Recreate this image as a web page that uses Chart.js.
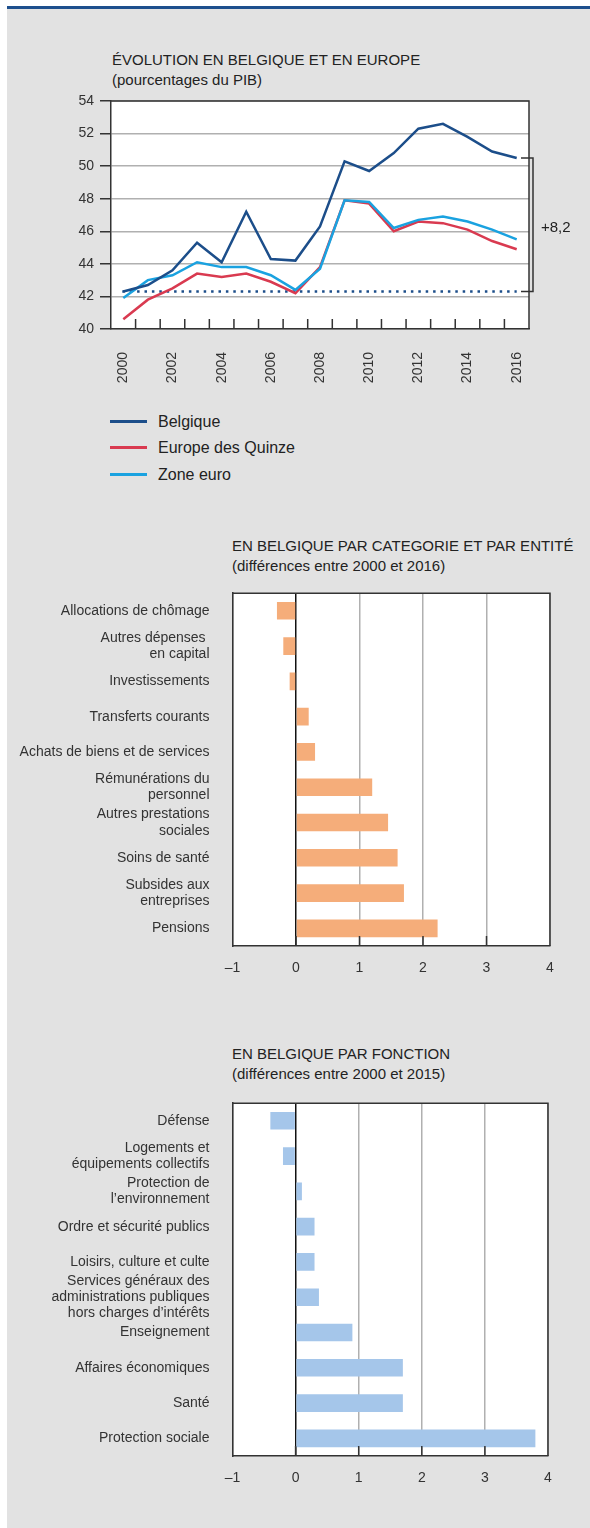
<!DOCTYPE html>
<html lang="fr">
<head>
<meta charset="utf-8">
<title>Dépenses publiques</title>
<script src="https://cdn.jsdelivr.net/npm/chart.js@4.4.1/dist/chart.umd.min.js"></script>
<style>
  html, body { margin: 0; padding: 0; background: #ffffff; }
  #page { position: relative; width: 590px; height: 1528px; overflow: hidden; font-family: 'Liberation Sans', Arial, sans-serif; color: #222; }
  .panel { position: absolute; left: 7px; top: 9px; width: 583px; height: 1519px; background: #e2e2e2; }
  .rule { position: absolute; left: 7px; top: 6px; width: 583px; height: 3px; background: #1d4f8d; }
  .title { position: absolute; font-size: 15px; line-height: 20px; white-space: nowrap; color: #222; }
  .box { position: absolute; left: 0; }
  .legend { position: absolute; left: 110px; top: 410px; }
  .legend .item { position: relative; height: 26.4px; }
  .legend .swatch { position: absolute; left: 0; top: 10px; width: 37px; height: 3px; }
  .legend .name { position: absolute; left: 48px; top: 1px; font-size: 16px; line-height: 22px; white-space: nowrap; color: #222; }
</style>
</head>
<body>
<div id="page">
  <div class="panel"></div>
  <div class="rule"></div>

  <div class="title" style="left:112px; top:50px;">ÉVOLUTION EN BELGIQUE ET EN EUROPE<br>(pourcentages du PIB)</div>
  <div class="box" style="top:0; width:590px; height:390px;"><canvas id="evolution" width="590" height="390"></canvas></div>
  <div class="legend" id="legend"></div>

  <div class="title" style="left:232px; top:536px;">EN BELGIQUE PAR CATEGORIE ET PAR ENTITÉ<br>(différences entre 2000 et 2016)</div>
  <div class="box" style="top:570px; width:590px; height:420px;"><canvas id="categorie" width="590" height="420"></canvas></div>

  <div class="title" style="left:232px; top:1044px;">EN BELGIQUE PAR FONCTION<br>(différences entre 2000 et 2015)</div>
  <div class="box" style="top:1080px; width:590px; height:420px;"><canvas id="fonction" width="590" height="420"></canvas></div>
</div>

<script>
// ---- Données : évolution des dépenses publiques (pourcentages du PIB) ----
const years = ['2000','2001','2002','2003','2004','2005','2006','2007','2008',
               '2009','2010','2011','2012','2013','2014','2015','2016'];
const belgique     = [42.3, 42.7, 43.6, 45.3, 44.1, 47.2, 44.3, 44.2, 46.3, 50.3, 49.7, 50.8, 52.3, 52.6, 51.8, 50.9, 50.5];
const europeQuinze = [40.6, 41.8, 42.5, 43.4, 43.2, 43.4, 42.9, 42.2, 43.8, 47.9, 47.7, 46.0, 46.6, 46.5, 46.1, 45.4, 44.9];
const zoneEuro     = [41.9, 43.0, 43.3, 44.1, 43.8, 43.8, 43.3, 42.4, 43.7, 47.9, 47.8, 46.2, 46.7, 46.9, 46.6, 46.1, 45.5];
const seriesNames  = ['Belgique', 'Europe des Quinze', 'Zone euro'];
const yMin = 40, yMax = 54, yStep = 2;

// ---- Données : différences par catégorie (2000-2016) ----
const categorieLabels = [
  'Allocations de chômage',
  ['Autres dépenses ', 'en capital'],
  'Investissements',
  'Transferts courants',
  'Achats de biens et de services',
  ['Rémunérations du', 'personnel'],
  ['Autres prestations', 'sociales'],
  'Soins de santé',
  ['Subsides aux', 'entreprises'],
  'Pensions'
];
const categorieValues = [-0.3, -0.2, -0.1, 0.2, 0.3, 1.2, 1.45, 1.6, 1.7, 2.23];

// ---- Données : différences par fonction (2000-2015) ----
const fonctionLabels = [
  'Défense',
  ['Logements et', 'équipements collectifs'],
  ['Protection de', 'l’environnement'],
  'Ordre et sécurité publics',
  'Loisirs, culture et culte',
  ['Services généraux des', 'administrations publiques', 'hors charges d’intérêts'],
  'Enseignement',
  'Affaires économiques',
  'Santé',
  'Protection sociale'
];
const fonctionValues = [-0.4, -0.2, 0.1, 0.3, 0.3, 0.37, 0.9, 1.7, 1.7, 3.8];
const diffMin = -1, diffMax = 4;

// ---- Styles ----
const colors = { belgique: '#1c4e8a', quinze: '#d93a50', euro: '#1aa2e0' };
const ink = '#333333';
const gridGray = '#b0b0b0';
const sansFont = "'Liberation Sans', Arial, sans-serif";

Chart.defaults.font.family = sansFont;
Chart.defaults.color = ink;
Chart.defaults.animation = false;

// Fond blanc de la zone de tracé et cadre (haut et droite)
const plotFrame = {
  id: 'plotFrame',
  beforeDraw(chart) {
    const a = chart.chartArea, c = chart.ctx;
    c.save(); c.fillStyle = '#ffffff';
    c.fillRect(a.left, a.top, a.right - a.left, a.bottom - a.top);
    c.restore();
  },
  afterDraw(chart) {
    const a = chart.chartArea, c = chart.ctx;
    c.save(); c.strokeStyle = ink; c.lineWidth = 1.5;
    c.beginPath();
    c.moveTo(a.left, a.top); c.lineTo(a.right, a.top); c.lineTo(a.right, a.bottom);
    c.stroke(); c.restore();
  }
};

// Graduations intérieures sur l'axe horizontal
function innerTicks(positions, chart) {
  const a = chart.chartArea, c = chart.ctx;
  c.save(); c.strokeStyle = ink; c.lineWidth = 1.5;
  c.beginPath();
  positions.forEach(x => { c.moveTo(x, a.bottom); c.lineTo(x, a.bottom - 10); });
  c.stroke(); c.restore();
}

const fmt = v => v.toFixed(1).replace('.', ',');

// ---------------- Graphique 1 : évolution ----------------
const evolutionExtras = {
  id: 'evolutionExtras',
  beforeDatasetsDraw(chart) {
    // Ligne pointillée au niveau belge de 2000
    const x = chart.scales.x, y = chart.scales.y, c = chart.ctx;
    const yy = y.getPixelForValue(belgique[0]);
    c.save();
    c.strokeStyle = colors.belgique; c.lineWidth = 2.5; c.setLineDash([2.5, 4.9]);
    c.beginPath();
    c.moveTo(x.getPixelForValue(0) - 1, yy);
    c.lineTo(x.getPixelForValue(years.length - 1), yy);
    c.stroke(); c.restore();
  },
  afterDraw(chart) {
    const x = chart.scales.x, y = chart.scales.y, c = chart.ctx;
    // graduations entre les années
    const pos = [];
    for (let i = 0; i < years.length - 1; i++) {
      pos.push((x.getPixelForValue(i) + x.getPixelForValue(i + 1)) / 2);
    }
    innerTicks(pos, chart);
    // accolade de l'écart 2000-2016
    const start = belgique[0], end = belgique[belgique.length - 1];
    const yTop = y.getPixelForValue(end), yBot = y.getPixelForValue(start);
    const bx = chart.chartArea.right + 4;
    c.save();
    c.strokeStyle = ink; c.lineWidth = 1.5;
    c.beginPath();
    c.moveTo(bx - 12, yTop); c.lineTo(bx, yTop); c.lineTo(bx, yBot); c.lineTo(bx - 12, yBot);
    c.stroke();
    c.fillStyle = '#222'; c.font = '15px ' + sansFont;
    c.textAlign = 'left'; c.textBaseline = 'middle';
    c.fillText((end - start >= 0 ? '+' : '') + fmt(end - start), bx + 8, (yTop + yBot) / 2 + 3);
    c.restore();
  }
};

const evolutionSeries = [
  { label: seriesNames[0], data: belgique,     color: colors.belgique, order: 0 },
  { label: seriesNames[1], data: europeQuinze, color: colors.quinze,   order: 2 },
  { label: seriesNames[2], data: zoneEuro,     color: colors.euro,     order: 1 }
];

new Chart(document.getElementById('evolution'), {
  type: 'line',
  data: {
    labels: years,
    datasets: evolutionSeries.map(s => ({
      label: s.label, data: s.data, order: s.order,
      borderColor: s.color, backgroundColor: s.color,
      borderWidth: 2.5, pointRadius: 0, tension: 0, fill: false
    }))
  },
  options: {
    responsive: false,
    layout: { padding: { top: 101, right: 61, bottom: 0, left: 0 } },
    plugins: { legend: { display: false }, tooltip: { enabled: false } },
    scales: {
      x: {
        type: 'category', offset: true,
        grid: { display: false },
        border: { display: true, color: ink, width: 1.5 },
        ticks: {
          autoSkip: false, minRotation: 90, maxRotation: 90, padding: 15,
          font: { size: 14 }, color: ink,
          callback: function (v) { const t = this.getLabelForValue(v); return (+t) % 2 === 0 ? t : ''; }
        },
        afterFit: s => { s.height = 61; }
      },
      y: {
        min: yMin, max: yMax,
        ticks: { stepSize: yStep, font: { size: 14 }, color: ink, padding: 6 },
        grid: { color: gridGray, lineWidth: 1.5, tickColor: ink, tickLength: 11 },
        border: { color: ink, width: 1.5 },
        afterFit: s => { s.width = 111; }
      }
    }
  },
  plugins: [plotFrame, evolutionExtras]
});

// Légende
const legendEl = document.getElementById('legend');
evolutionSeries.forEach(s => {
  const item = document.createElement('div'); item.className = 'item';
  const sw = document.createElement('div'); sw.className = 'swatch'; sw.style.background = s.color;
  const nm = document.createElement('div'); nm.className = 'name'; nm.textContent = s.label;
  item.appendChild(sw); item.appendChild(nm); legendEl.appendChild(item);
});

// ---------------- Graphiques 2 et 3 : barres horizontales ----------------
function barChart(canvasId, labels, values, color, padTop, padRight, axisHeight) {
  const ticksInside = {
    id: 'ticksInside',
    afterDraw(chart) {
      const x = chart.scales.x, pos = [];
      for (let v = diffMin + 1; v < diffMax; v++) pos.push(x.getPixelForValue(v));
      innerTicks(pos, chart);
    }
  };
  return new Chart(document.getElementById(canvasId), {
    type: 'bar',
    data: {
      labels: labels,
      datasets: [{ data: values, backgroundColor: color, borderWidth: 0, barPercentage: 0.5, categoryPercentage: 1 }]
    },
    options: {
      indexAxis: 'y',
      responsive: false,
      layout: { padding: { top: padTop, right: padRight, bottom: 0, left: 0 } },
      plugins: { legend: { display: false }, tooltip: { enabled: false } },
      scales: {
        x: {
          min: diffMin, max: diffMax,
          ticks: { stepSize: 1, font: { size: 14 }, color: ink, padding: 14,
                   callback: v => (v < 0 ? '\u2013' + Math.abs(v) : String(v)) },
          grid: {
            drawTicks: false, lineWidth: 1.5,
            color: ctx => (ctx.tick && ctx.tick.value === 0 ? '#111111' : gridGray)
          },
          border: { color: ink, width: 1.5 },
          afterFit: s => { s.height = axisHeight; }
        },
        y: {
          ticks: { autoSkip: false, font: { size: 14, lineHeight: 1.165 }, color: ink, padding: 15 },
          grid: { display: false },
          border: { color: ink, width: 1.5 },
          afterFit: s => { s.width = 232.5; }
        }
      }
    },
    plugins: [plotFrame, ticksInside]
  });
}

barChart('categorie', categorieLabels, categorieValues, '#f5ad7a', 14, 40, 44);
barChart('fonction', fonctionLabels, fonctionValues, '#a5c6ea', 10, 42, 44);
</script>
</body>
</html>
